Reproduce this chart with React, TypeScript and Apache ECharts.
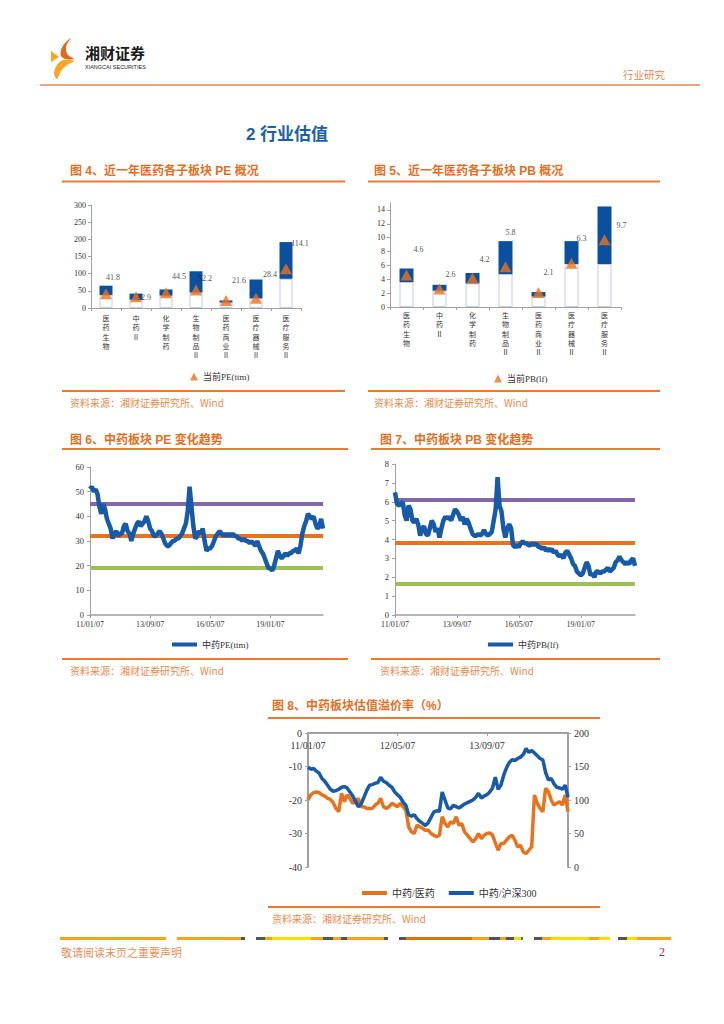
import React, { useEffect, useRef } from 'react';
import * as echarts from 'echarts';

// ---------- data ----------
const subCats = ['医药生物', '中药Ⅱ', '化学制药', '生物制品Ⅱ', '医药商业Ⅱ', '医疗器械Ⅱ', '医疗服务Ⅱ'];
const peMin = [38, 24, 36, 45, 16, 28, 85];
const peMax = [65, 42, 54, 107, 22, 83, 192];
const peCur = [41.8, 32.9, 44.5, 52.2, 21.6, 28.4, 114.1];
const pbMin = [3.6, 2.35, 3.4, 4.75, 1.5, 6.2, 6.2];
const pbMax = [5.55, 3.2, 4.9, 9.5, 2.15, 9.5, 14.5];
const pbCur = [4.6, 2.6, 4.2, 5.8, 2.1, 6.3, 9.7];

// label offsets (styling) for the value labels, relative to position 'top'
const peLabelOffsets = [[7, -1.5], [8, 15.5], [13, -1.5], [9, 2.5], [13, -5.5], [14, -9.5], [14, -10.5]];
const pbLabelOffsets = [[12, -11.5], [11, 0.5], [12, -3.5], [5, -19.5], [10, -5.5], [10, -10.5], [17, 0.5]];

// 中药 PE(ttm), monthly from 2011-01
const peSeries = [
  51, 52, 50, 51, 49, 44, 41, 45, 43, 39,
  37, 35, 31, 33, 34, 32, 33, 33, 36, 37,
  34, 33, 30, 33, 35, 37, 38, 36, 37, 38,
  40, 38, 35, 34, 32, 32, 33, 34, 33, 31,
  29, 28, 28, 29, 30, 30, 31, 31, 32, 33,
  35, 37, 42, 52, 44, 36, 31, 32, 34, 33,
  35, 30, 26, 27, 27, 28, 30, 32, 33, 34,
  33, 32, 33, 32, 33, 32, 33, 32, 32, 31,
  31, 30, 31, 30, 30, 29, 30, 29, 28, 30,
  28, 26, 25, 23, 21, 19, 19, 18, 20, 23,
  26, 24, 23, 24, 25, 24, 25, 25, 26, 26,
  27, 25, 28, 33, 36, 38, 41, 40, 39, 40,
  37, 35, 36, 39, 35,
];
const peHigh = 45.2;
const peMid = 32.3;
const peLow = 19.2;

// 中药 PB(lf), monthly from 2011-01
const pbSeries = [
  6.5, 5.9, 5.8, 5.9, 6.0, 5.3, 5.0, 5.8, 5.6, 5.0,
  4.9, 5.1, 4.8, 4.2, 4.6, 4.7, 4.3, 4.2, 4.6, 5.0,
  4.8, 4.4, 4.6, 4.1, 4.6, 5.0, 5.2, 5.1, 5.2, 5.0,
  5.3, 5.6, 5.5, 5.3, 5.0, 5.2, 4.8, 5.1, 4.9, 4.6,
  4.3, 4.2, 4.2, 4.3, 4.2, 4.3, 4.5, 4.3, 4.2, 4.3,
  4.4, 5.0, 5.6, 7.3, 5.8, 5.5, 4.6, 4.1, 4.6, 4.8,
  4.6, 3.7, 3.6, 3.7, 3.6, 3.8, 3.9, 3.8, 3.8, 3.7,
  3.7, 3.8, 3.7, 3.8, 3.6, 3.6, 3.5, 3.6, 3.4, 3.5,
  3.4, 3.5, 3.3, 3.4, 3.2, 3.1, 3.2, 3.0, 3.3, 3.4,
  3.2, 3.0, 2.7, 2.6, 2.3, 2.2, 2.1, 2.2, 2.5, 2.8,
  2.6, 2.1, 2.2, 2.0, 2.3, 2.3, 2.2, 2.3, 2.3, 2.4,
  2.5, 2.3, 2.4, 2.5, 2.8, 2.9, 3.1, 2.9, 2.8, 2.7,
  2.8, 2.7, 2.9, 3.0, 2.6,
];
const pbHigh = 6.08;
const pbMid = 3.85;
const pbLow = 1.67;

// 估值溢价率, half-monthly from 2011-01
const premVsMed = [
  -20, -18.5, -17.8, -17.6, -17.8, -18.5, -18.8, -19.5, -19.8, -20.8,
  -22.5, -23.5, -18, -20.5, -18.5, -19.5, -21, -20.5, -19.5, -22,
  -22, -22.5, -22.5, -22.5, -21.5, -21, -19.5, -22, -22.5, -22,
  -21, -21.5, -22, -21, -22, -23, -28, -29.5, -30, -27.5,
  -28, -28.5, -29, -29, -30, -30.5, -31, -30.5, -25, -27,
  -28, -26.5, -27, -25, -27.5, -27, -29.5, -30.5, -31.5, -32.5,
  -31.5, -30, -31.5, -30.5, -30, -29.8, -30.5, -32.8, -35, -33,
  -33, -32, -31, -30.5, -32, -34, -33.5, -35.5, -36, -35,
  -34, -18.5, -21, -22.5, -23.5, -16.5, -17.5, -20, -21.5, -21,
  -20.5, -21.5, -18.5, -23.5,
];
const premVsHs300 = [
  149, 146, 147, 143, 140, 132, 128, 122, 116, 113,
  114, 116, 119, 120, 118, 112, 106, 98, 90, 94,
  104, 114, 122, 123, 125, 126, 134, 128, 126, 122,
  119, 112, 108, 104, 97, 92, 78, 76, 78, 72,
  68, 65, 62, 66, 74, 82, 84, 83, 112, 100,
  88, 87, 92, 90, 88, 91, 94, 96, 98, 100,
  104, 110, 103, 106, 108, 112, 118, 134, 116, 122,
  137, 148, 156, 160, 159, 162, 164, 168, 177, 171,
  174, 170, 166, 162, 160, 141, 130, 132, 124, 119,
  118, 116, 122, 104,
];

const dateLabel = (monthIdx: number, day: string) => {
  const y = 11 + Math.floor(monthIdx / 12);
  const m = (monthIdx % 12) + 1;
  return `${y}/${String(m).padStart(2, '0')}/${day}`;
};
const monthCats = peSeries.map((_, i) => dateLabel(i, '07'));
const halfCats = premVsMed.map((_, i) => dateLabel(Math.floor(i / 2), i % 2 ? '22' : '07'));

// ---------- styles ----------
const SERIF = "'Liberation Serif', 'Times New Roman', 'Noto Sans CJK SC', serif";
const CJK = "'Noto Sans CJK SC', sans-serif";
const HEAD = "'Liberation Sans', Arial, 'Noto Sans CJK SC', sans-serif";
const BAR_BLUE = '#0b4f9f';
const LINE_BLUE = '#165aa8';
const ORANGE = '#e8731e';
const PURPLE = '#8467a6';
const GREEN = '#9bc057';
const AXIS = '#a0a0a0';
const HEAD_ORANGE = '#e36f1e';
const SRC_ORANGE = '#e88a4c';

const text = (t: string, x: number, y: number, o: any = {}) => ({
  type: 'text',
  x,
  y,
  silent: true,
  style: {
    text: t,
    fill: o.fill || '#333',
    fontSize: o.fontSize || 10,
    fontFamily: o.fontFamily || CJK,
    fontWeight: o.fontWeight || 'normal',
    align: o.align || 'left',
    verticalAlign: 'middle',
  },
});
const hline = (x1: number, x2: number, y: number, color: string, w: number) => ({
  type: 'line',
  silent: true,
  shape: { x1, y1: y, x2, y2: y },
  style: { stroke: color, lineWidth: w },
});

const footerSegs: [number, number, string][] = [
  [60, 166, '#f2a51c'],
  [177, 241, '#f2a51c'], [241, 245, '#555'],
  [256, 265, '#555'], [265, 272, '#f2a51c'], [272, 311, '#f7e000'], [311, 323, '#f2a51c'],
  [323, 333, '#555'], [333, 341, '#f2a51c'], [341, 347, '#555'], [347, 384, '#f2a51c'], [384, 388, '#555'],
  [399, 406, '#555'], [406, 472, '#e07010'], [472, 489, '#f2a51c'], [489, 500, '#555'],
  [500, 506, '#f2a51c'], [506, 514, '#555'], [514, 521, '#f7e000'], [521, 523, '#2a9a50'],
  [534, 542, '#555'], [542, 551, '#f2a51c'], [551, 589, '#f7e000'], [589, 599, '#f2a51c'], [599, 610, '#f7e000'],
  [618, 627, '#555'], [627, 637, '#f7e000'], [637, 671, '#f2a51c'],
];

const catAxis = (grid: number, data: string[], margin: number) => ({
  type: 'category',
  gridIndex: grid,
  data,
  axisLine: { lineStyle: { color: AXIS, width: 1 } },
  axisTick: { show: true, length: 3, lineStyle: { color: AXIS } },
  axisLabel: {
    interval: 0,
    margin,
    formatter: (s: string) => s.split('').join('\n'),
    fontSize: 7,
    lineHeight: 9.4,
    color: '#333',
    fontFamily: CJK,
  },
});
const timeAxis = (grid: number, data: string[], fontSize: number, margin: number) => ({
  type: 'category',
  gridIndex: grid,
  data,
  boundaryGap: false,
  axisLine: { lineStyle: { color: AXIS, width: 1.5 } },
  axisTick: { show: true, interval: 31, length: 3, lineStyle: { color: AXIS } },
  axisLabel: { interval: 31, fontSize, margin, color: '#333', fontFamily: SERIF },
});
const valAxis = (grid: number, min: number, max: number, interval: number, fontSize: number, extra: any = {}) => ({
  type: 'value',
  gridIndex: grid,
  min,
  max,
  interval,
  splitLine: { show: false },
  axisLine: { show: true, lineStyle: { color: AXIS, width: extra.lineWidth || 1 } },
  axisTick: { show: true, length: 3, lineStyle: { color: AXIS } },
  axisLabel: { fontSize, color: '#333', fontFamily: SERIF, margin: extra.margin || 5, showMaxLabel: extra.showMax !== false },
  position: extra.position,
});

const refLines = (hi: number, mid: number, lo: number) => ({
  silent: true,
  symbol: ['none', 'none'],
  label: { show: false },
  z: 1,
  lineStyle: { width: 4, type: 'solid' },
  data: [
    { yAxis: hi, lineStyle: { color: PURPLE, width: 4, type: 'solid' } },
    { yAxis: mid, lineStyle: { color: ORANGE, width: 4, type: 'solid' } },
    { yAxis: lo, lineStyle: { color: GREEN, width: 4, type: 'solid' } },
  ],
});

const labelStyle = { fontSize: 8, color: '#222', fontFamily: SERIF };

const barSeries = (idx: number, mins: number[], maxs: number[], cur: number[], offs: number[][], name: string, stack: string, bw: number) => [
  {
    type: 'bar', name: stack + '-low', xAxisIndex: idx, yAxisIndex: idx, stack, barWidth: bw,
    data: mins,
    itemStyle: { color: '#ffffff', borderColor: '#c5cedf', borderWidth: 1 },
  },
  {
    type: 'bar', name: stack + '-range', xAxisIndex: idx, yAxisIndex: idx, stack, barWidth: bw,
    data: maxs.map((v, i) => +(v - mins[i]).toFixed(2)),
    itemStyle: { color: BAR_BLUE },
  },
  {
    type: 'scatter', name, xAxisIndex: idx, yAxisIndex: idx, symbol: 'triangle', symbolSize: [12, 11], z: 5,
    itemStyle: { color: ORANGE },
    label: { show: true, position: 'top', distance: 5, formatter: '{c}', ...labelStyle },
    data: cur.map((v, i) => ({ value: v, label: { offset: offs[i] } })),
  },
];

export default function App() {
  const ref = useRef<HTMLDivElement>(null);
  useEffect(() => {
    if (!ref.current) return;
    const chart = echarts.init(ref.current, undefined, { renderer: 'svg' });
    const graphic: any[] = [
      // logo
      { type: 'polygon', silent: true, shape: { points: [[71, 38], [65, 43], [61, 50], [61, 56], [65, 59], [74, 59], [68, 55], [66, 50], [67, 44]], smooth: 0.3 }, style: { fill: '#e2691c' } },
      { type: 'polygon', silent: true, shape: { points: [[63, 60], [74, 61], [67, 65], [61, 71], [57, 79], [54, 73], [57, 65]], smooth: 0.3 }, style: { fill: '#f6a623' } },
      { type: 'polygon', silent: true, shape: { points: [[51, 51], [59, 57], [51, 62]] }, style: { fill: '#f6a623' } },
      text('湘财证券', 85, 52, { fontSize: 15, fontWeight: 'bold', fill: '#1a1a1a', fontFamily: CJK }),
      text('XIANGCAI SECURITIES', 85, 67, { fontSize: 5.5, fill: '#222', fontFamily: HEAD }),
      text('行业研究', 665, 74, { fontSize: 10.5, fill: '#e0884e', align: 'right' }),
      hline(40, 700, 85, '#e8a47c', 2),
      text('2 行业估值', 287, 134, { fontSize: 17, fontWeight: 'bold', fill: '#1b5fa8', align: 'center', fontFamily: HEAD }),
      // headers
      text('图 4、近一年医药各子板块 PE 概况', 70, 171, { fontSize: 12, fontWeight: 'bold', fill: HEAD_ORANGE, fontFamily: HEAD }),
      text('图 5、近一年医药各子板块 PB 概况', 374, 171, { fontSize: 12, fontWeight: 'bold', fill: HEAD_ORANGE, fontFamily: HEAD }),
      hline(62, 345, 181.5, '#ec7a2e', 2),
      hline(368, 660, 181.5, '#ec7a2e', 2),
      hline(62, 345, 391, '#ec7a2e', 2),
      hline(368, 660, 391, '#ec7a2e', 2),
      text('资料来源：湘财证券研究所、Wind', 70, 402, { fontSize: 10, fill: SRC_ORANGE }),
      text('资料来源：湘财证券研究所、Wind', 374, 402, { fontSize: 10, fill: SRC_ORANGE }),
      text('图 6、中药板块 PE 变化趋势', 70, 440, { fontSize: 12, fontWeight: 'bold', fill: HEAD_ORANGE, fontFamily: HEAD }),
      text('图 7、中药板块 PB 变化趋势', 380, 440, { fontSize: 12, fontWeight: 'bold', fill: HEAD_ORANGE, fontFamily: HEAD }),
      hline(62, 348, 449, '#ec7a2e', 2),
      hline(371, 660, 449, '#ec7a2e', 2),
      hline(62, 348, 659, '#ec7a2e', 2),
      hline(371, 660, 659, '#ec7a2e', 2),
      text('资料来源：湘财证券研究所、Wind', 70, 670, { fontSize: 10, fill: SRC_ORANGE }),
      text('资料来源：湘财证券研究所、Wind', 380, 670, { fontSize: 10, fill: SRC_ORANGE }),
      text('图 8、中药板块估值溢价率（%）', 272, 706, { fontSize: 12, fontWeight: 'bold', fill: HEAD_ORANGE, fontFamily: HEAD }),
      hline(268, 600, 718, '#ec7a2e', 2),
      hline(268, 600, 907, '#ec7a2e', 2),
      text('资料来源：湘财证券研究所、Wind', 272, 918, { fontSize: 10, fill: SRC_ORANGE }),
      // footer
      ...footerSegs.map(([a, b, c]) => ({ type: 'rect', silent: true, shape: { x: a, y: 937, width: b - a, height: 3 }, style: { fill: c } })),
      text('敬请阅读末页之重要声明', 61, 952, { fontSize: 11, fill: '#e8905a' }),
      text('2', 665, 952, { fontSize: 12, fill: '#a01e3c', align: 'right', fontFamily: SERIF }),
    ];

    const premXAxis: any = timeAxis(4, halfCats, 10, 7);
    premXAxis.position = 'top';
    premXAxis.axisLine = { onZero: false, lineStyle: { color: AXIS, width: 2 } };
    premXAxis.axisLabel = { ...premXAxis.axisLabel, inside: true };
    premXAxis.axisTick = { ...premXAxis.axisTick, inside: true };

    const option: any = {
      animation: false,
      textStyle: { fontFamily: SERIF },
      grid: [
        { left: 91, top: 205, width: 210, height: 103 },
        { left: 390, top: 203, width: 231, height: 104 },
        { left: 90, top: 467, width: 233, height: 148 },
        { left: 395, top: 464, width: 240, height: 151 },
        { left: 308, top: 733, width: 260, height: 134 },
      ],
      xAxis: [
        catAxis(0, subCats, 5),
        catAxis(1, subCats, 3),
        timeAxis(2, monthCats, 8, 5),
        timeAxis(3, monthCats, 8, 5),
        premXAxis,
      ],
      yAxis: [
        valAxis(0, 0, 300, 50, 8),
        valAxis(1, 0, 15, 2, 8, { showMax: false }),
        valAxis(2, 0, 60, 10, 8.5, { margin: 6 }),
        valAxis(3, 0, 8, 1, 8.5, { margin: 6 }),
        valAxis(4, -40, 0, 10, 10, { position: 'left', lineWidth: 2, margin: 6 }),
        valAxis(4, 0, 200, 50, 10, { position: 'right', lineWidth: 2, margin: 6 }),
      ],
      legend: [
        { data: [{ name: '当前PE(ttm)', icon: 'triangle' }], left: 185, top: 367, itemWidth: 8, itemHeight: 8, textStyle: { fontSize: 9, color: '#333', fontFamily: SERIF } },
        { data: [{ name: '当前PB(lf)', icon: 'triangle' }], left: 489, top: 369, itemWidth: 8, itemHeight: 8, textStyle: { fontSize: 9, color: '#333', fontFamily: SERIF } },
        { data: [{ name: '中药PE(ttm)', icon: 'rect' }], left: 167, top: 635, itemWidth: 25, itemHeight: 4, textStyle: { fontSize: 9, color: '#333', fontFamily: SERIF } },
        { data: [{ name: '中药PB(lf)', icon: 'rect' }], left: 483, top: 635, itemWidth: 25, itemHeight: 4, textStyle: { fontSize: 9, color: '#333', fontFamily: SERIF } },
        { data: [{ name: '中药/医药', icon: 'rect' }, { name: '中药/沪深300', icon: 'rect' }], left: 357, top: 883, itemWidth: 25, itemHeight: 4, itemGap: 14, textStyle: { fontSize: 10, color: '#333', fontFamily: SERIF } },
      ],
      series: [
        ...barSeries(0, peMin, peMax, peCur, peLabelOffsets, '当前PE(ttm)', 'pe', 13),
        ...barSeries(1, pbMin, pbMax, pbCur, pbLabelOffsets, '当前PB(lf)', 'pb', 14),
        {
          type: 'line', name: '中药PE(ttm)', xAxisIndex: 2, yAxisIndex: 2, data: peSeries, z: 3,
          showSymbol: false, symbol: 'none', lineStyle: { color: LINE_BLUE, width: 4.5 }, itemStyle: { color: LINE_BLUE },
          markLine: refLines(peHigh, peMid, peLow),
        },
        {
          type: 'line', name: '中药PB(lf)', xAxisIndex: 3, yAxisIndex: 3, data: pbSeries, z: 3,
          showSymbol: false, symbol: 'none', lineStyle: { color: LINE_BLUE, width: 4.5 }, itemStyle: { color: LINE_BLUE },
          markLine: refLines(pbHigh, pbMid, pbLow),
        },
        {
          type: 'line', name: '中药/医药', xAxisIndex: 4, yAxisIndex: 4, data: premVsMed,
          showSymbol: false, symbol: 'none', lineStyle: { color: ORANGE, width: 3.5 }, itemStyle: { color: ORANGE },
        },
        {
          type: 'line', name: '中药/沪深300', xAxisIndex: 4, yAxisIndex: 5, data: premVsHs300,
          showSymbol: false, symbol: 'none', lineStyle: { color: LINE_BLUE, width: 3.5 }, itemStyle: { color: LINE_BLUE },
        },
      ],
      graphic,
    };
    chart.setOption(option);
    return () => chart.dispose();
  }, []);
  return <div ref={ref} style={{ position: 'absolute', left: 0, top: 0, width: 724, height: 1024, background: '#fff' }} />;
}
